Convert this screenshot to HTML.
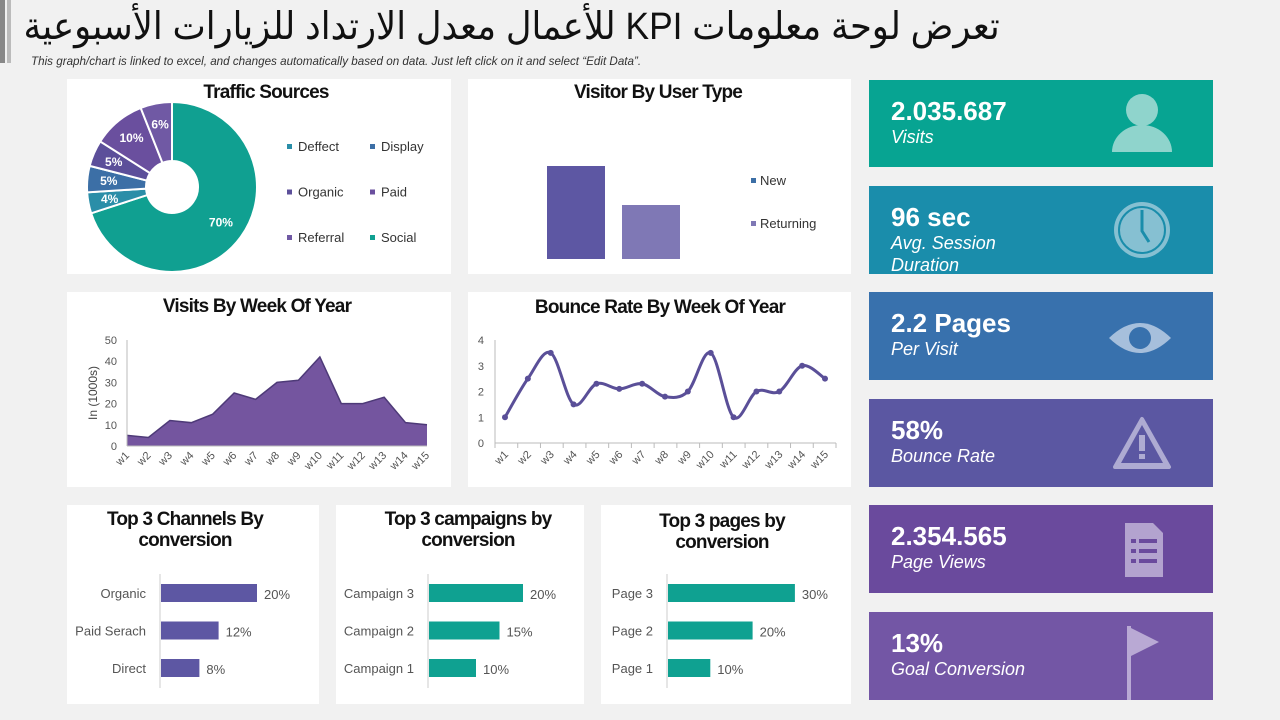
<!DOCTYPE html>
<html><head><meta charset="utf-8">
<style>
body{margin:0;width:1280px;height:720px;background:#f1f1f1;font-family:"Liberation Sans",sans-serif;position:relative;overflow:hidden}
.p{position:absolute;background:#fff}
.kpi{position:absolute;left:869px;width:344px;color:#fff;overflow:hidden}
.kpi .v{position:absolute;left:22px;top:16px;font-size:26px;font-weight:bold}
.kpi .l{position:absolute;left:22px;top:46px;font-size:18px;font-style:italic;line-height:22px}
.kpi svg{position:absolute;right:40px;top:12px}
</style></head><body>
<div style="position:absolute;left:0;top:0;width:5px;height:63px;background:#888"></div>
<div style="position:absolute;left:7px;top:0;width:4px;height:63px;background:#bbb"></div>
<div style="position:absolute;right:280px;top:4px;white-space:nowrap;font-family:'Liberation Sans','DejaVu Sans',sans-serif;font-size:38px;color:#111;direction:rtl;transform:scaleX(0.93);transform-origin:right top">تعرض لوحة معلومات KPI للأعمال معدل الارتداد للزيارات الأسبوعية</div>
<div style="position:absolute;left:31px;top:54px;font-size:12px;font-style:italic;color:#333;white-space:nowrap;transform:scaleX(0.97);transform-origin:left top">This graph/chart is linked to excel, and changes automatically  based on data. Just left click on it and select “Edit Data”.</div>

<div class="p" style="left:67px;top:79px;width:384px;height:195px"></div>
<div class="p" style="left:468px;top:79px;width:383px;height:195px"></div>
<div class="p" style="left:67px;top:292px;width:384px;height:195px"></div>
<div class="p" style="left:468px;top:292px;width:383px;height:195px"></div>
<div class="p" style="left:67px;top:505px;width:252px;height:199px"></div>
<div class="p" style="left:336px;top:505px;width:248px;height:199px"></div>
<div class="p" style="left:601px;top:505px;width:250px;height:199px"></div>

<svg id="c" width="1280" height="720" style="position:absolute;left:0;top:0" font-family="Liberation Sans, sans-serif"></svg>

<div class="kpi" style="top:80px;height:87px;background:#07a492"><div class="v">2.035.687</div><div class="l">Visits</div>
<svg width="62" height="62" viewBox="0 0 62 62"><circle cx="31" cy="18" r="16" fill="#8fd4cc"/><path d="M1 60 A30 27 0 0 1 61 60Z" fill="#8fd4cc"/></svg></div>
<div class="kpi" style="top:186px;height:88px;background:#1a8dab"><div class="v">96 sec</div><div class="l">Avg. Session<br>Duration</div>
<svg width="62" height="62" viewBox="0 0 62 62"><circle cx="31" cy="32" r="28" fill="#86c0d2"/><circle cx="31" cy="32" r="23" fill="none" stroke="#1a8dab" stroke-width="2"/><path d="M31 12V33L38 44" stroke="#1a8dab" stroke-width="3" fill="none"/></svg></div>
<div class="kpi" style="top:292px;height:88px;background:#3871ad"><div class="v">2.2 Pages</div><div class="l">Per Visit</div>
<svg width="66" height="62" viewBox="0 0 66 62"><path d="M2 34 Q33 4 64 34 Q33 64 2 34Z" fill="#a6bfdc"/><circle cx="33" cy="34" r="11" fill="#3871ad"/></svg></div>
<div class="kpi" style="top:399px;height:88px;background:#5b57a2"><div class="v">58%</div><div class="l">Bounce Rate</div>
<svg width="62" height="62" viewBox="0 0 62 62"><path d="M31 8 L58 56 H4Z" fill="#aeabd2" stroke="#aeabd2" stroke-width="4" stroke-linejoin="round"/><path d="M31 14 L52 52 H10Z" fill="#5b57a2"/><rect x="28" y="24" width="6" height="16" fill="#aeabd2"/><rect x="28" y="43" width="6" height="5" fill="#aeabd2"/></svg></div>
<div class="kpi" style="top:505px;height:88px;background:#6a4a9d"><div class="v">2.354.565</div><div class="l">Page Views</div>
<svg width="62" height="62" viewBox="0 0 62 62"><path d="M14 6H42L52 16V60H14Z" fill="#b3a3cf"/><g fill="#6a4a9d"><rect x="20" y="22" width="5" height="4"/><rect x="28" y="22" width="18" height="4"/><rect x="20" y="32" width="5" height="4"/><rect x="28" y="32" width="18" height="4"/><rect x="20" y="42" width="5" height="4"/><rect x="28" y="42" width="18" height="4"/></g></svg></div>
<div class="kpi" style="top:612px;height:88px;background:#7356a5"><div class="v">13%</div><div class="l">Goal Conversion</div>
<svg width="62" height="76" viewBox="0 0 62 76"><rect x="16" y="2" width="4" height="74" fill="#b9a9d4"/><path d="M20 4 L48 18 L20 32Z" fill="#b9a9d4"/></svg></div>

<script>
// ---- data ----
const trafficCats=["Social","Deffect","Display","Organic","Paid","Referral"];
const trafficVals=[70,4,5,5,10,6];
const legendCats=["Deffect","Display","Organic","Paid","Referral","Social"];
const visitorCats=["New","Returning"];
const visitorVals=[62,36];
const weeks=["w1","w2","w3","w4","w5","w6","w7","w8","w9","w10","w11","w12","w13","w14","w15"];
const visitsVals=[5,4,12,11,15,25,22,30,31,42,20,20,23,11,10];
const visitsTicks=[0,10,20,30,40,50];
const bounceVals=[1,2.5,3.5,1.5,2.3,2.1,2.3,1.8,2,3.5,1,2,2,3,2.5];
const bounceTicks=[0,1,2,3,4];
const channelCats=["Organic","Paid Serach","Direct"];
const channelVals=[20,12,8];
const campaignCats=["Campaign 3","Campaign 2","Campaign 1"];
const campaignVals=[20,15,10];
const pageCats=["Page 3","Page 2","Page 1"];
const pageVals=[30,20,10];

const svg=document.getElementById('c');
const NS='http://www.w3.org/2000/svg';
function mk(tag,attrs,parent){const e=document.createElementNS(NS,tag);for(const k in attrs)e.setAttribute(k,attrs[k]);(parent||svg).appendChild(e);return e;}
function txt(x,y,s,attrs){const t=mk('text',Object.assign({x:x,y:y},attrs||{}));t.textContent=s;return t;}
function title(x,y,s,name){const t=txt(x,y,s,{'font-size':19,'font-weight':'bold','text-anchor':'middle',fill:'#111','letter-spacing':'-0.8'});}

title(266,98,"Traffic Sources","traffic-sources-title");
title(658,98,"Visitor By User Type","visitor-type-title");
title(257,312,"Visits By Week Of Year","visits-title");
title(660,313,"Bounce Rate By Week Of Year","bounce-title");
title(185,525,"Top 3 Channels By","channels-title");title(185,546,"conversion","channels-title-2");
title(468,525,"Top 3 campaigns by","campaigns-title");title(468,546,"conversion","campaigns-title-2");
title(722,527,"Top 3 pages by","pages-title");title(722,548,"conversion","pages-title-2");

// donut
const trafficColors={"Social":"#10a091","Deffect":"#2a8ea8","Display":"#3c6fa6","Organic":"#5c4f9a","Paid":"#6a4f9e","Referral":"#7059a4"};
const cx=172,cy=187,R=85,r=26;
const total=trafficVals.reduce((a,b)=>a+b,0);
let ang=0;
trafficVals.forEach((v,i)=>{
  const a0=ang, a1=ang+v/total*2*Math.PI; ang=a1;
  const p=(a,rad)=>[cx+rad*Math.sin(a),cy-rad*Math.cos(a)];
  const [x0,y0]=p(a0,R),[x1,y1]=p(a1,R),[x2,y2]=p(a1,r),[x3,y3]=p(a0,r);
  const large=(a1-a0)>Math.PI?1:0;
  const s=mk('path',{d:`M${x0} ${y0}A${R} ${R} 0 ${large} 1 ${x1} ${y1}L${x2} ${y2}A${r} ${r} 0 ${large} 0 ${x3} ${y3}Z`,fill:trafficColors[trafficCats[i]],stroke:'#fff','stroke-width':2});
  
  
  const am=(a0+a1)/2,[lx,ly]=p(am,(R+r)/2+(v>50?5:8));
  const t=txt(lx,ly+4,v+'%',{'font-size':12,'font-weight':'bold',fill:'#fff','text-anchor':'middle'});
  
  
});
legendCats.forEach((c,i)=>{
  const x=291+(i%2)*83,y=151+Math.floor(i/2)*45.5;
  const g=mk('g',{});
  
  
  mk('rect',{x:x-4,y:y-7,width:5,height:5,fill:trafficColors[c]},g);
  const t=mk('text',{x:x+7,y:y,'font-size':13,fill:'#333'},g);t.textContent=c;
});

// visitor bars
const vBase=259,vScale=1.5;
const vColors=["#5d57a3","#7f78b5"];
visitorVals.forEach((v,i)=>{
  const b=mk('rect',{x:547+i*75,y:vBase-v*vScale,width:58,height:v*vScale,fill:vColors[i]});
  
  
  mk('rect',{x:751,y:178+i*43,width:5,height:5,fill:i?'#7f78b5':'#3c6fa6'});
  const t=txt(760,185+i*43,visitorCats[i],{'font-size':13,fill:'#333'});
  
  
});

// visits area
const ax0=127,ax1=427,ay0=446,ay1=340;
const vx=i=>ax0+i*(ax1-ax0)/(weeks.length-1);
const vy=v=>ay0-v/50*(ay0-ay1);
let d=`M${vx(0)} ${ay0}`;visitsVals.forEach((v,i)=>d+=`L${vx(i)} ${vy(v)}`);d+=`L${vx(14)} ${ay0}Z`;
const area=mk('path',{d:d,fill:'#74559f'});


let dl='';visitsVals.forEach((v,i)=>dl+=(i?'L':'M')+vx(i)+' '+vy(v));
mk('path',{d:dl,fill:'none',stroke:'#4e3a78','stroke-width':1.5});
mk('line',{x1:ax0,y1:ay1,x2:ax0,y2:ay0,stroke:'#bbb'});
mk('line',{x1:ax0,y1:ay0,x2:ax1,y2:ay0,stroke:'#bbb'});
visitsTicks.forEach(t=>{const e=txt(117,vy(t)+4,t,{'font-size':11,fill:'#555','text-anchor':'end'});});
weeks.forEach((w,i)=>{const e=txt(vx(i)+3,ay0+10,w,{'font-size':11,fill:'#555','text-anchor':'end',transform:`rotate(-45 ${vx(i)+3} ${ay0+10})`});});
const yt=txt(97,393,'In  (1000s)',{'font-size':12,fill:'#444','text-anchor':'middle',transform:'rotate(-90 97 393)'});


// bounce line
const bx0=505,bx1=825,by0=443,by1=340;
const bx=i=>bx0+i*(bx1-bx0)/(weeks.length-1);
const by=v=>by0-v/4*(by0-by1);
mk('line',{x1:495,y1:by1,x2:495,y2:by0,stroke:'#bbb'});
mk('line',{x1:495,y1:by0,x2:836,y2:by0,stroke:'#bbb'});
for(let i=0;i<=weeks.length;i++){const x=495+i*(836-495)/15;mk('line',{x1:x,y1:by0,x2:x,y2:by0+5,stroke:'#bbb'});}
bounceTicks.forEach(t=>{const e=txt(484,by(t)+4,t,{'font-size':11,fill:'#555','text-anchor':'end'});});
weeks.forEach((w,i)=>{const e=txt(bx(i)+4,by0+12,w,{'font-size':11,fill:'#555','text-anchor':'end',transform:`rotate(-45 ${bx(i)+4} ${by0+12})`});});
const pts=bounceVals.map((v,i)=>[bx(i),by(v)]);
let bd=`M${pts[0][0]} ${pts[0][1]}`;
for(let i=0;i<pts.length-1;i++){
  const p0=pts[Math.max(0,i-1)],p1=pts[i],p2=pts[i+1],p3=pts[Math.min(pts.length-1,i+2)];
  const c1=[p1[0]+(p2[0]-p0[0])/6,p1[1]+(p2[1]-p0[1])/6],c2=[p2[0]-(p3[0]-p1[0])/6,p2[1]-(p3[1]-p1[1])/6];
  bd+=`C${c1[0]} ${c1[1]} ${c2[0]} ${c2[1]} ${p2[0]} ${p2[1]}`;
}
const bl=mk('path',{d:bd,fill:'none',stroke:'#5a4f98','stroke-width':3});

pts.forEach(p=>{const c=mk('circle',{cx:p[0],cy:p[1],r:3,fill:'#5a4f98'});});

// bottom bar charts
function hbars(cats,vals,axisX,pxPer,color,prefix){
  mk('line',{x1:axisX,y1:574,x2:axisX,y2:688,stroke:'#ccc'});
  vals.forEach((v,i)=>{
    const yc=593+i*37.5;
    const b=mk('rect',{x:axisX+1,y:yc-9,width:v*pxPer,height:18,fill:color});
    
    
    const l=txt(axisX-14,yc+5,cats[i],{'font-size':13,fill:'#555','text-anchor':'end'});
    
    const vl=txt(axisX+v*pxPer+8,yc+6,v+'%',{'font-size':13,fill:'#555'});
    
  });
}
hbars(channelCats,channelVals,160,4.8,'#5d57a3','channel');
hbars(campaignCats,campaignVals,428,4.7,'#0fa191','campaign');
hbars(pageCats,pageVals,667,4.23,'#0fa191','page');
</script>
</body></html>
